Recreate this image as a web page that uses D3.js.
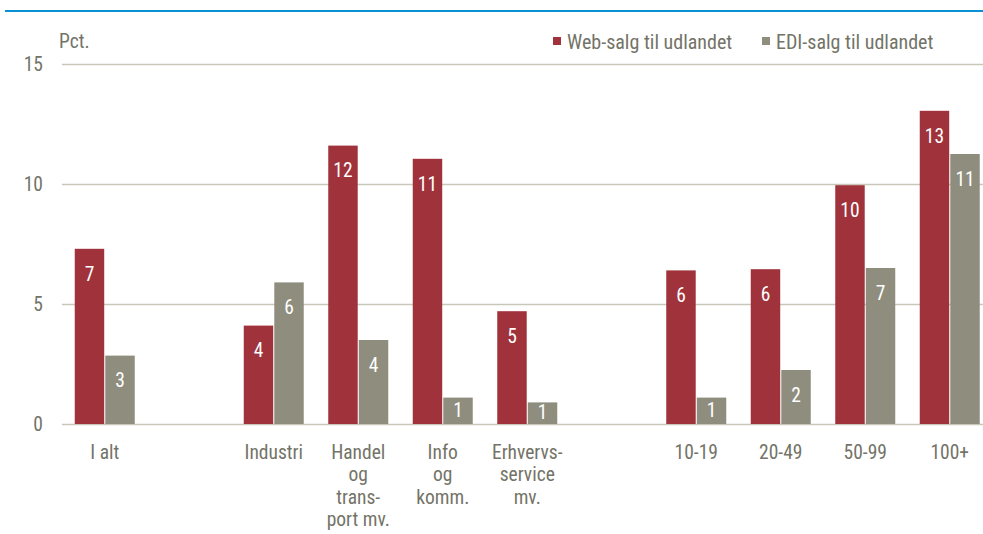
<!DOCTYPE html>
<html><head><meta charset="utf-8">
<script src="https://cdn.jsdelivr.net/npm/d3@7"></script>
<style>
html,body{margin:0;padding:0;background:#fff;}
svg{display:block;}
text{font-family:"Liberation Sans Narrow","Arial Narrow","Roboto Condensed","Liberation Sans",sans-serif;}
</style></head>
<body>
<svg id="chart" width="983" height="534"></svg>
<script>
const categories = [
  ["I alt"],
  [],
  ["Industri"],
  ["Handel","og","trans-","port mv."],
  ["Info","og","komm."],
  ["Erhvervs-","service","mv."],
  [],
  ["10-19"],
  ["20-49"],
  ["50-99"],
  ["100+"]
];
const seriesNames = ["Web-salg til udlandet","EDI-salg til udlandet"];
const webValues = [7.3, null, 4.1, 11.6, 11.05, 4.7, null, 6.4, 6.45, 9.95, 13.05];
const ediValues = [2.85, null, 5.9, 3.5, 1.1, 0.9, null, 1.1, 2.25, 6.5, 11.25];
const yTicks = [0,5,10,15];
const unitLabel = "Pct.";

const colors = ["#a0323b","#8f8e7e"];
const textColor = "#737367";
const svg = d3.select("#chart");

const margin = {left:62, right:983, top:64, bottom:424};
const idx = categories.map((d,i)=>i);
const x0 = d3.scaleBand().domain(idx).range([62.5, 992]);
const groupW = 60;
const x1 = d3.scaleBand().domain([0,1]).range([0, groupW]).paddingInner(0.035);
const y = d3.scaleLinear().domain([0,15]).range([margin.bottom, margin.top]);

// top blue rule
svg.append("line").attr("x1",5).attr("x2",983).attr("y1",11).attr("y2",11)
  .attr("stroke","#0a91d4").attr("stroke-width",2);

// y axis labels
const yAxis = d3.axisLeft(y).tickValues(yTicks).tickSize(0).tickPadding(19);
const gy = svg.append("g").attr("transform",`translate(${margin.left},0)`).call(yAxis);
gy.select(".domain").remove();
gy.selectAll("text").attr("fill",textColor).attr("font-size",19.5).attr("dy","0.35em");
// gridlines
svg.append("g").selectAll("line").data(yTicks).join("line")
  .attr("x1",margin.left).attr("x2",margin.right)
  .attr("y1",d=>Math.round(y(d))+0.5).attr("y2",d=>Math.round(y(d))+0.5)
  .attr("stroke","#c9c7b9").attr("stroke-width",1.5);

svg.append("text").attr("x",59).attr("y",48).attr("fill",textColor)
  .attr("font-size",19.5).text(unitLabel);

// bars
const data = [];
idx.forEach(i=>{
  [webValues[i], ediValues[i]].forEach((v,s)=>{
    if(v!=null) data.push({i, s, v});
  });
});
const off = (x0.bandwidth()-groupW)/2;
const bars = svg.append("g");
bars.selectAll("rect").data(data).join("rect")
  .attr("x",d=>x0(d.i)+off+x1(d.s))
  .attr("y",d=>y(d.v))
  .attr("width",x1.bandwidth())
  .attr("height",d=>y(0)-y(d.v))
  .attr("fill",d=>colors[d.s]);
bars.selectAll("text").data(data).join("text")
  .attr("x",d=>x0(d.i)+off+x1(d.s)+x1.bandwidth()/2)
  .attr("y",d=>Math.min(y(d.v)+25, (y(d.v)+y(0))/2 - 1))
  .attr("dy","0.35em")
  .attr("text-anchor","middle")
  .attr("fill","#fff").attr("font-size",19.5)
  .text(d=>Math.round(d.v));

// category labels
const cl = svg.append("g");
idx.forEach(i=>{
  const t = cl.append("text").attr("text-anchor","middle")
    .attr("fill",textColor).attr("font-size",19.5)
    .attr("transform",`translate(${x0(i)+x0.bandwidth()/2},459)`);
  categories[i].forEach((line,k)=>{
    t.append("tspan").attr("x",0).attr("y",k*22.3).text(line);
  });
});

// legend
const legX = [553, 762];
const lg = svg.append("g");
seriesNames.forEach((n,s)=>{
  lg.append("rect").attr("x",legX[s]).attr("y",37).attr("width",8).attr("height",8).attr("fill",colors[s]);
  lg.append("text").attr("x",legX[s]+14).attr("y",49).attr("fill",textColor).attr("font-size",20).text(n);
});
</script>
</body></html>
